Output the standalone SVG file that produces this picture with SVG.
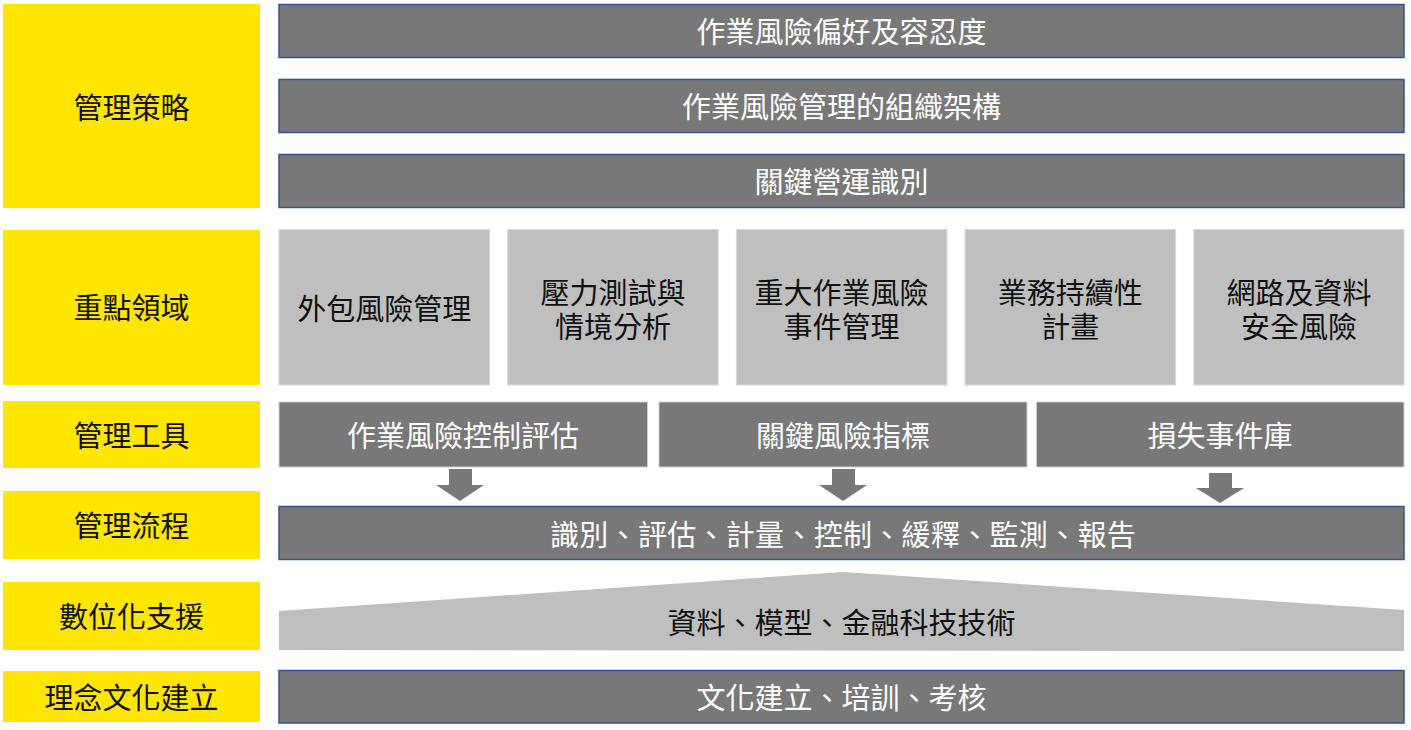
<svg xmlns="http://www.w3.org/2000/svg" width="1411" height="730" viewBox="0 0 1411 730">
<style>
text{font-family:"Noto Sans CJK TC","Noto Sans CJK SC",sans-serif;font-size:29px;text-anchor:middle;dominant-baseline:central}
.y{fill:#FFE600}
.d{fill:#787878;stroke:#2F5597;stroke-width:1.5}
.t{fill:#787878;stroke:#d0d0d0;stroke-width:1}
.l{fill:#BFBFBF;stroke:#d8d8d8;stroke-width:1}
.w{fill:#ffffff}
.k{fill:#111111}
.a{fill:#787878}
</style>
<rect width="1411" height="730" fill="#ffffff"/>
<g id="label-strategy"><rect class="y" x="3" y="4" width="257" height="204"/><text class="k" x="131.5" y="106">管理策略</text></g>
<g id="label-focus"><rect class="y" x="3" y="230" width="257" height="155"/><text class="k" x="131.5" y="306">重點領域</text></g>
<g id="label-tools"><rect class="y" x="3" y="401" width="257" height="67"/><text class="k" x="131.5" y="434">管理工具</text></g>
<g id="label-process"><rect class="y" x="3" y="491" width="257" height="68"/><text class="k" x="131.5" y="524">管理流程</text></g>
<g id="label-digital"><rect class="y" x="3" y="582" width="257" height="68"/><text class="k" x="131.5" y="615">數位化支援</text></g>
<g id="label-culture"><rect class="y" x="3" y="671" width="257" height="51"/><text class="k" x="131.5" y="695.5">理念文化建立</text></g>

<g id="bar-appetite"><rect class="d" x="279" y="4.5" width="1125" height="53"/><text class="w" x="841.5" y="30">作業風險偏好及容忍度</text></g>
<g id="bar-org"><rect class="d" x="279" y="79.5" width="1125" height="53"/><text class="w" x="841.5" y="105">作業風險管理的組織架構</text></g>
<g id="bar-key"><rect class="d" x="279" y="154.5" width="1125" height="53"/><text class="w" x="841.5" y="180">關鍵營運識別</text></g>

<g id="focus-outsourcing"><rect class="l" x="279" y="229.5" width="210.5" height="155.5"/><text class="k" x="384.2" y="307">外包風險管理</text></g>
<g id="focus-stress"><rect class="l" x="507.7" y="229.5" width="210.5" height="155.5"/><text class="k"><tspan x="612.9" y="291">壓力測試與</tspan><tspan x="612.9" y="325">情境分析</tspan></text></g>
<g id="focus-incident"><rect class="l" x="736.4" y="229.5" width="210.5" height="155.5"/><text class="k"><tspan x="841.6" y="291">重大作業風險</tspan><tspan x="841.6" y="325">事件管理</tspan></text></g>
<g id="focus-bcp"><rect class="l" x="965.1" y="229.5" width="210.5" height="155.5"/><text class="k"><tspan x="1070.3" y="291">業務持續性</tspan><tspan x="1070.3" y="325">計畫</tspan></text></g>
<g id="focus-cyber"><rect class="l" x="1193.8" y="229.5" width="210.2" height="155.5"/><text class="k"><tspan x="1298.9" y="291">網路及資料</tspan><tspan x="1298.9" y="325">安全風險</tspan></text></g>

<g id="tool-rcsa"><rect class="t" x="279" y="402" width="368.5" height="65"/><text class="w" x="463" y="434">作業風險控制評估</text></g>
<g id="tool-kri"><rect class="t" x="659" y="402" width="368" height="65"/><text class="w" x="843" y="434">關鍵風險指標</text></g>
<g id="tool-loss"><rect class="t" x="1036.5" y="402" width="367.5" height="65"/><text class="w" x="1220" y="434">損失事件庫</text></g>

<g id="connectors">
<polygon class="a" points="449,469 472,469 472,485 484,485 460,501 436,485 449,485"/>
<polygon class="a" points="832,469 855,469 855,485 867,485 843,501 819,485 832,485"/>
<polygon class="a" points="1209,473 1232,473 1232,488 1244,488 1220,503 1196,488 1209,488"/>
</g>

<g id="process"><rect class="d" x="279" y="506.5" width="1125" height="53"/><text class="w" x="843" y="533" letter-spacing="0.3">識別、評估、計量、控制、緩釋、監測、報告</text></g>
<g id="digital"><polygon fill="#BFBFBF" points="279,650 279,611 843,572 1404,610 1404,651"/><text class="k" x="841.5" y="621">資料、模型、金融科技技術</text></g>
<g id="culture"><rect class="d" x="279" y="670.5" width="1125" height="52.5"/><text class="w" x="841.5" y="696">文化建立、培訓、考核</text></g>
</svg>
